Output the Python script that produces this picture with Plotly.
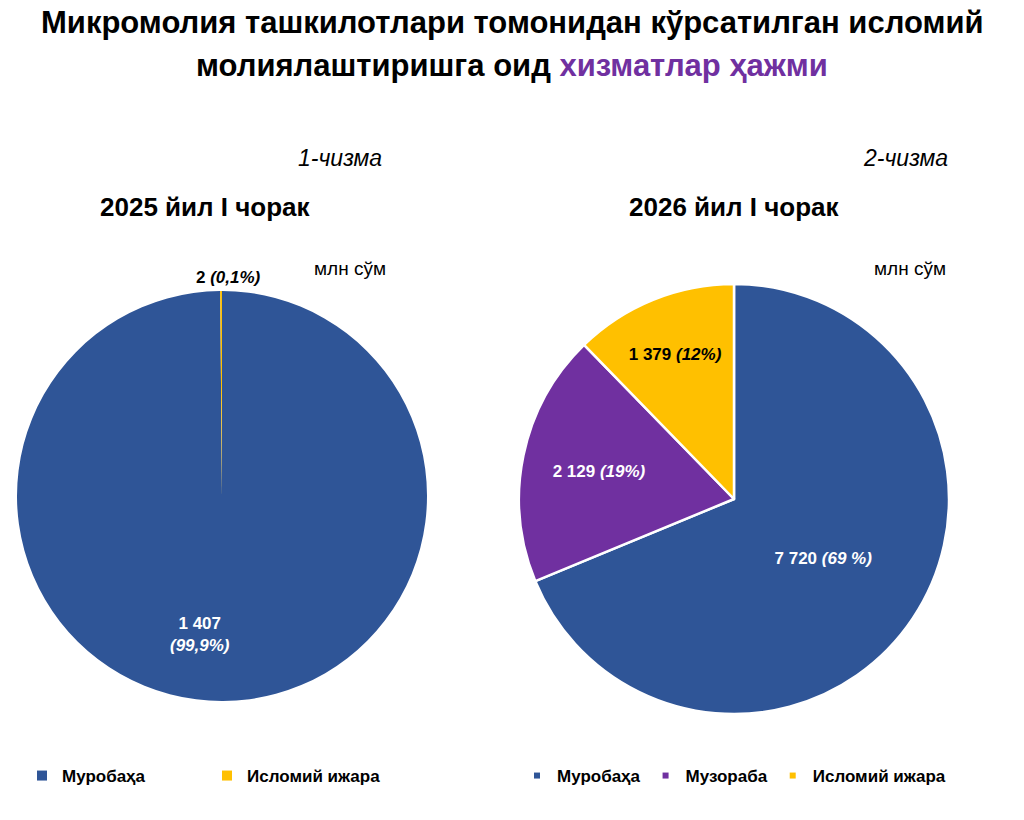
import plotly.graph_objects as go

# Data
labels1 = ["Муробаҳа", "Исломий ижара"]
values1 = [1407, 2]
pct1 = ["99,9%", "0,1%"]

labels2 = ["Муробаҳа", "Музораба", "Исломий ижара"]
values2 = [7720, 2129, 1379]
pct2 = ["69 %", "19%", "12%"]

colors = {"Муробаҳа": "#2F5597", "Музораба": "#7030A0", "Исломий ижара": "#FFC000"}
FONT = "Liberation Sans, Arial, sans-serif"

fig = go.Figure()

fig.add_trace(go.Pie(
    labels=labels1, values=values1, customdata=pct1,
    sort=False, direction="clockwise", rotation=0,
    marker=dict(colors=[colors[l] for l in labels1], line=dict(color="white", width=0)),
    textinfo="none",
    domain=dict(x=[17/1024, 427/1024], y=[1-701/820, 1-291/820]),
    showlegend=False, hoverinfo="label+value",
))

fig.add_trace(go.Pie(
    labels=labels2, values=values2, customdata=pct2,
    sort=False, direction="clockwise", rotation=0,
    marker=dict(colors=[colors[l] for l in labels2], line=dict(color="white", width=2.5)),
    texttemplate="<b>%{value:,} <i>(%{customdata})</i></b>",
    textposition="inside", insidetextorientation="horizontal",
    textfont=dict(family=FONT, size=17, color=["white", "white", "black"]),
    domain=dict(x=[519/1024, 949/1024], y=[1-714/820, 1-284/820]),
    showlegend=False, hoverinfo="label+value",
))

# Legend entries (one legend per chart)
for lab in labels1:
    fig.add_trace(go.Scatter(x=[None], y=[None], mode="markers", name=lab,
                             marker=dict(symbol="square", size=10, color=colors[lab]),
                             legend="legend", showlegend=True))
for lab in labels2:
    fig.add_trace(go.Scatter(x=[None], y=[None], mode="markers", name=lab,
                             marker=dict(symbol="square", size=6, color=colors[lab]),
                             legend="legend2", showlegend=True))

fmt = lambda v: f"{v:,}".replace(",", " ")

ann = [
    dict(text="<b>Микромолия ташкилотлари томонидан кўрсатилган исломий</b>",
         x=0.5, y=1-22/820, font=dict(size=31, color="black", family=FONT)),
    dict(text="<b>молиялаштиришга оид <span style='color:#7030A0'>хизматлар ҳажми</span></b>",
         x=0.5, y=1-66/820, font=dict(size=31, color="black", family=FONT)),
    dict(text="<i>1-чизма</i>", x=340/1024, y=1-158/820, font=dict(size=23, color="black", family=FONT)),
    dict(text="<i>2-чизма</i>", x=905/1024, y=1-158/820, font=dict(size=23, color="black", family=FONT)),
    dict(text="<b>2025 йил I чорак</b>", x=205/1024, y=1-207/820, font=dict(size=26, color="black", family=FONT)),
    dict(text="<b>2026 йил I чорак</b>", x=734/1024, y=1-207/820, font=dict(size=26, color="black", family=FONT)),
    dict(text="млн сўм", x=350/1024, y=1-268/820, font=dict(size=19, color="black", family=FONT)),
    dict(text="млн сўм", x=910/1024, y=1-268/820, font=dict(size=19, color="black", family=FONT)),
    dict(text=f"<b>{fmt(values1[1])} <i>({pct1[1]})</i></b>", x=228/1024, y=1-277/820,
         font=dict(size=17, color="black", family=FONT)),
    dict(text=f"<b>{fmt(values1[0])}<br><i>({pct1[0]})</i></b>", x=200/1024, y=1-634/820,
         font=dict(size=17, color="white", family=FONT)),
]
for a in ann:
    a.update(xref="paper", yref="paper", showarrow=False, xanchor="center", yanchor="middle")

fig.update_layout(
    width=1024, height=820,
    margin=dict(l=0, r=0, t=0, b=0),
    paper_bgcolor="white", plot_bgcolor="white",
    separators=", ",
    xaxis=dict(visible=False), yaxis=dict(visible=False),
    annotations=ann,
    legend=dict(orientation="h", x=22/1024, y=1-776/820, xanchor="left", yanchor="middle",
                entrywidth=140, entrywidthmode="pixels", traceorder="normal",
                font=dict(family=FONT, size=17, color="black", weight="bold")),
    legend2=dict(orientation="h", x=517/1024, y=1-776/820, xanchor="left", yanchor="middle",
                 traceorder="normal",
                 font=dict(family=FONT, size=17, color="black", weight="bold")),
)

fig.write_html("out.html")
